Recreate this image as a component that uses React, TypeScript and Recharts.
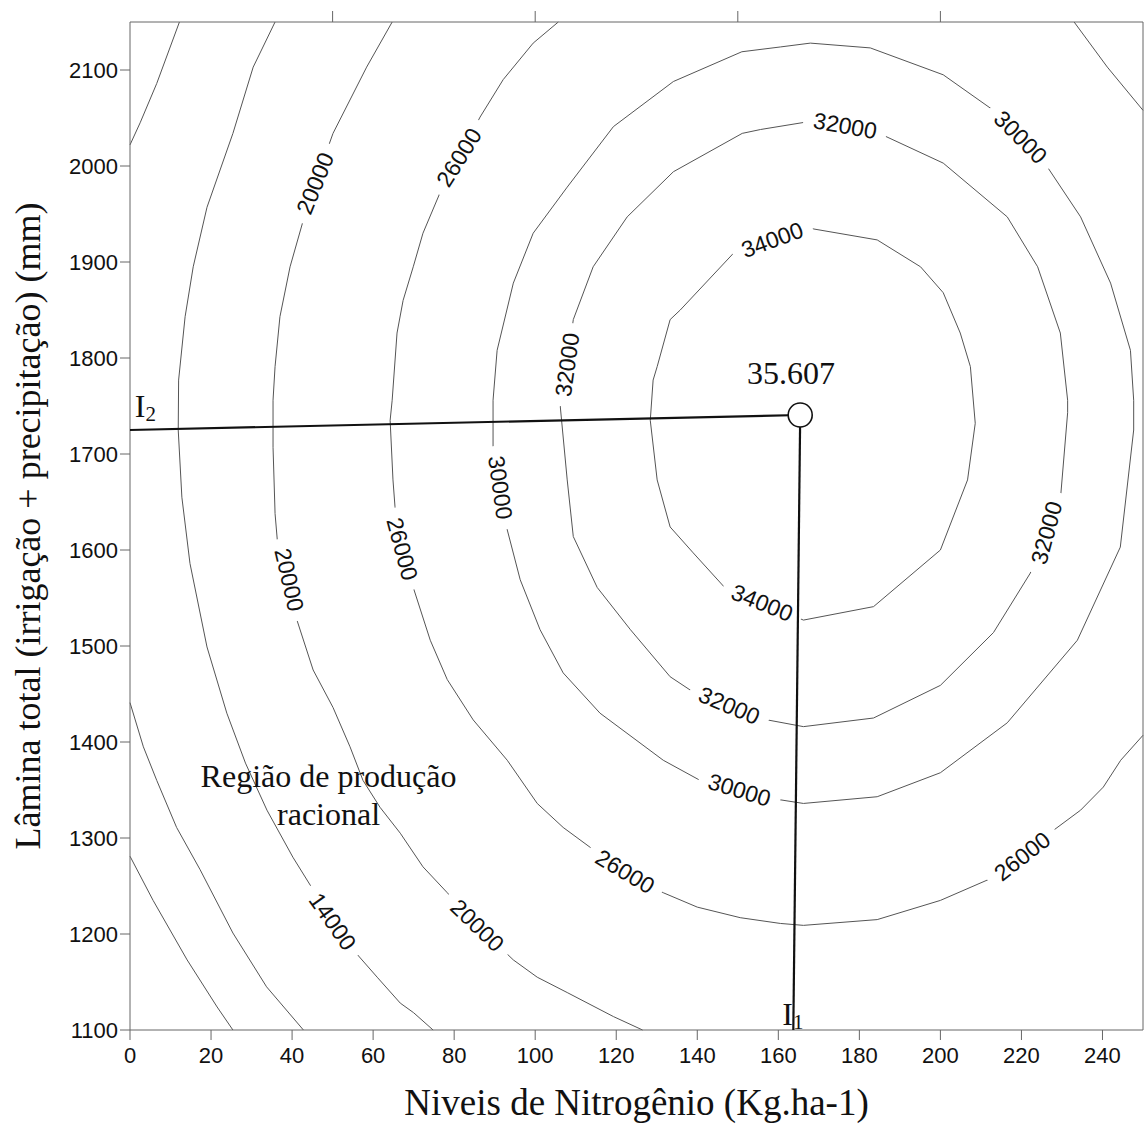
import {
  ComposedChart,
  Line,
  Scatter,
  XAxis,
  YAxis,
  ReferenceLine,
  Label,
} from 'recharts';

const W = 1144;
const H = 1125;

const xTicks = [0, 20, 40, 60, 80, 100, 120, 140, 160, 180, 200, 220, 240];
const yTicks = [1100, 1200, 1300, 1400, 1500, 1600, 1700, 1800, 1900, 2000, 2100];
const topTicks = [50, 100, 150, 200];

// contour lines (x = N kg/ha, y = mm)
const cornerLow = [
  { x: 0, y: 1281 }, { x: 5.7, y: 1235 }, { x: 14.1, y: 1173 }, { x: 21.5, y: 1124 }, { x: 25.4, y: 1100 },
];
const outerLow = [
  { x: 0, y: 1441 }, { x: 3.3, y: 1395 }, { x: 6.6, y: 1360 }, { x: 11.5, y: 1311 }, { x: 17.3, y: 1267 },
  { x: 25.4, y: 1201 }, { x: 33.7, y: 1145 }, { x: 42.8, y: 1100 },
];
const outerTop = [
  { x: 12.2, y: 2150 }, { x: 6.6, y: 2086 }, { x: 2.5, y: 2045 }, { x: 0, y: 2022 },
];
const c14000 = [
  { x: 35.8, y: 2150 }, { x: 30.4, y: 2103 }, { x: 25.4, y: 2034 }, { x: 19, y: 1957 }, { x: 15.6, y: 1895 },
  { x: 13.6, y: 1843 }, { x: 12, y: 1777 }, { x: 11.9, y: 1725 }, { x: 12.8, y: 1655 }, { x: 14.8, y: 1586 },
  { x: 19, y: 1499 }, { x: 23.9, y: 1430 }, { x: 28.5, y: 1378 }, { x: 33.8, y: 1329 }, { x: 40.2, y: 1280 },
  { x: 45.2, y: 1246 }, { x: 50, y: 1213 }, { x: 55.6, y: 1181 }, { x: 61, y: 1155 }, { x: 66.7, y: 1128 },
  { x: 70, y: 1118 }, { x: 74.8, y: 1100 },
];
const c20000 = [
  { x: 64.7, y: 2150 }, { x: 58.4, y: 2103 }, { x: 50.1, y: 2034 }, { x: 45.7, y: 1982 }, { x: 42.8, y: 1944 },
  { x: 39.5, y: 1895 }, { x: 37, y: 1843 }, { x: 35.8, y: 1791 }, { x: 35.3, y: 1756 }, { x: 35.3, y: 1707 },
  { x: 35.8, y: 1638 }, { x: 36.5, y: 1603 }, { x: 39.3, y: 1569 }, { x: 41.2, y: 1527 }, { x: 45.2, y: 1475 },
  { x: 50.1, y: 1436 }, { x: 54.3, y: 1395 }, { x: 57.5, y: 1360 }, { x: 61.7, y: 1332 }, { x: 66.7, y: 1305 },
  { x: 72.3, y: 1270 }, { x: 78.3, y: 1243 }, { x: 85.7, y: 1209 }, { x: 94.6, y: 1173 }, { x: 100.5, y: 1155 },
  { x: 107.9, y: 1139 }, { x: 119.3, y: 1114 }, { x: 126.5, y: 1100 },
];
const c26000 = [
  { x: 105.7, y: 2150 }, { x: 99.5, y: 2128 }, { x: 92.1, y: 2090 }, { x: 86.4, y: 2051 }, { x: 81.2, y: 2009 },
  { x: 76.5, y: 1972 }, { x: 72.3, y: 1930 }, { x: 69.9, y: 1895 }, { x: 67.4, y: 1860 }, { x: 65.9, y: 1826 },
  { x: 64.7, y: 1756 }, { x: 64.2, y: 1735 }, { x: 64.9, y: 1673 }, { x: 65.4, y: 1645 }, { x: 67.2, y: 1601 },
  { x: 69.9, y: 1561 }, { x: 74.1, y: 1506 }, { x: 78.3, y: 1465 }, { x: 84.7, y: 1423 }, { x: 93.1, y: 1381 },
  { x: 100.5, y: 1336 }, { x: 106.9, y: 1311 }, { x: 114.3, y: 1288 }, { x: 122.2, y: 1265 }, { x: 131.6, y: 1243 },
  { x: 140, y: 1228 }, { x: 150.6, y: 1217 }, { x: 160.5, y: 1211 }, { x: 166.2, y: 1209 }, { x: 184.4, y: 1215 },
  { x: 200, y: 1235 }, { x: 213.1, y: 1259 }, { x: 220.2, y: 1281 }, { x: 227.9, y: 1308 }, { x: 234.6, y: 1329 },
  { x: 240.2, y: 1353 }, { x: 244.5, y: 1381 }, { x: 250, y: 1407 },
];
const c26000Corner = [
  { x: 233, y: 2150 }, { x: 241.2, y: 2103 }, { x: 250, y: 2058 },
];
const c30000 = [
  { x: 167.9, y: 2128 }, { x: 160.5, y: 2124 }, { x: 151, y: 2119 }, { x: 134.1, y: 2088 }, { x: 119.3, y: 2041 },
  { x: 107.9, y: 1978 }, { x: 99.5, y: 1930 }, { x: 94.6, y: 1878 }, { x: 90.6, y: 1808 }, { x: 89.6, y: 1756 },
  { x: 89.6, y: 1707 }, { x: 91.4, y: 1665 }, { x: 93.1, y: 1621 }, { x: 96.3, y: 1569 }, { x: 101.2, y: 1517 },
  { x: 106.9, y: 1472 }, { x: 116, y: 1430 }, { x: 131.6, y: 1381 }, { x: 140.7, y: 1360 }, { x: 150.4, y: 1350 },
  { x: 155.6, y: 1343 }, { x: 166.2, y: 1336 }, { x: 184.4, y: 1343 }, { x: 200, y: 1368 }, { x: 216.5, y: 1420 },
  { x: 233.8, y: 1506 }, { x: 244.4, y: 1603 }, { x: 247.7, y: 1725 }, { x: 247.7, y: 1756 }, { x: 246.9, y: 1808 },
  { x: 242, y: 1878 }, { x: 234.6, y: 1947 }, { x: 226.4, y: 1999 }, { x: 219.8, y: 2030 }, { x: 213.1, y: 2058 },
  { x: 200.7, y: 2095 }, { x: 182.7, y: 2123 }, { x: 167.9, y: 2128 },
];
const c32000 = [
  { x: 155.6, y: 2038 }, { x: 167.2, y: 2046 }, { x: 176.5, y: 2042 }, { x: 185.9, y: 2032 }, { x: 200.7, y: 2003 },
  { x: 216.5, y: 1947 }, { x: 224, y: 1895 }, { x: 229.6, y: 1826 }, { x: 231.4, y: 1756 }, { x: 231.4, y: 1743 },
  { x: 229.6, y: 1652 }, { x: 226.2, y: 1618 }, { x: 222.2, y: 1576 }, { x: 213.1, y: 1514 }, { x: 200, y: 1459 },
  { x: 183.5, y: 1425 }, { x: 166.2, y: 1416 }, { x: 157.3, y: 1423 }, { x: 147.9, y: 1438 }, { x: 138.3, y: 1454 },
  { x: 133.3, y: 1468 }, { x: 123.5, y: 1517 }, { x: 115.3, y: 1561 }, { x: 109.4, y: 1614 }, { x: 107.9, y: 1673 },
  { x: 106.2, y: 1749 }, { x: 107.9, y: 1793 }, { x: 109.4, y: 1840 }, { x: 114.3, y: 1895 }, { x: 122.7, y: 1947 },
  { x: 134.1, y: 1994 }, { x: 151.1, y: 2034 }, { x: 155.6, y: 2038 },
];
const c34000 = [
  { x: 148.9, y: 1909 }, { x: 158.5, y: 1923 }, { x: 167.9, y: 1935 }, { x: 184.4, y: 1923 }, { x: 195.1, y: 1895 },
  { x: 200.7, y: 1868 }, { x: 204.9, y: 1826 }, { x: 207.4, y: 1791 }, { x: 208.6, y: 1732 }, { x: 206.7, y: 1673 },
  { x: 200, y: 1600 }, { x: 183.5, y: 1541 }, { x: 166.2, y: 1527 }, { x: 156, y: 1545 }, { x: 147.4, y: 1558 },
  { x: 139, y: 1597 }, { x: 133.3, y: 1624 }, { x: 130.1, y: 1673 }, { x: 128.4, y: 1735 }, { x: 129.1, y: 1777 },
  { x: 130.1, y: 1791 }, { x: 133.3, y: 1840 }, { x: 135.8, y: 1850 }, { x: 148.9, y: 1909 },
];

const contours = [cornerLow, outerLow, outerTop, c14000, c20000, c26000, c26000Corner, c30000, c32000, c34000];

const contourLabels = [
  { x: 50, y: 1213, text: '14000' },
  { x: 45.7, y: 1982, text: '20000' },
  { x: 39.3, y: 1569, text: '20000' },
  { x: 85.7, y: 1209, text: '20000' },
  { x: 81.2, y: 2009, text: '26000' },
  { x: 67.2, y: 1601, text: '26000' },
  { x: 122.2, y: 1265, text: '26000' },
  { x: 220.2, y: 1281, text: '26000' },
  { x: 91.4, y: 1665, text: '30000' },
  { x: 150.4, y: 1350, text: '30000' },
  { x: 219.8, y: 2030, text: '30000' },
  { x: 176.5, y: 2042, text: '32000' },
  { x: 107.9, y: 1793, text: '32000' },
  { x: 147.9, y: 1438, text: '32000' },
  { x: 226.2, y: 1618, text: '32000' },
  { x: 158.5, y: 1923, text: '34000' },
  { x: 156, y: 1545, text: '34000' },
];
const labelAngles = [55, -68, 77, 44, -58, 75, 31, -38, 82, 17, 45, 10, -82, 23, -75, -20, 22];

const optimum = [{ x: 165.4, y: 1740.6 }];
const lineI2 = [{ x: 0, y: 1725 }, { x: 165.4, y: 1740.6 }];
const lineI1 = [{ x: 165.4, y: 1740.6 }, { x: 163.7, y: 1100 }];

const notes = [
  { x: 163.1, y: 1773, text: '35.607' },
  { x: 49, y: 1353, text: 'Região de produção' },
  { x: 49, y: 1313.5, text: 'racional' },
];
const indexLabels = [
  { x: 1.2, y: 1738.5, main: 'I', sub: '2' },
  { x: 161, y: 1105, main: 'I', sub: '1' },
];

const SERIF = '"Liberation Serif", "Times New Roman", serif';
const SANS = '"Liberation Sans", Arial, sans-serif';
const AXIS = '#666';

function YTitle(props: any) {
  const vb = props.viewBox;
  const cx = vb.x + 40;
  const cy = vb.y + vb.height / 2;
  return (
    <text x={cx} y={cy} transform={`rotate(-90, ${cx}, ${cy})`} textAnchor="middle"
      fontFamily={SERIF} fontSize={36} fill="#111">
      Lâmina total (irrigação + precipitação) (mm)
    </text>
  );
}

function XTitle(props: any) {
  const vb = props.viewBox;
  return (
    <text x={vb.x + vb.width / 2} y={vb.y + 85} textAnchor="middle"
      fontFamily={SERIF} fontSize={37} fill="#111">
      Niveis de Nitrogênio (Kg.ha-1)
    </text>
  );
}

function contourLabel(angle: number) {
  return (p: any) => {
    const { cx, cy } = p;
    return (
      <g transform={`rotate(${angle}, ${cx}, ${cy})`}>
        <rect x={cx - 42} y={cy - 9} width={84} height={18} fill="#fff" />
        <text x={cx} y={cy} textAnchor="middle" dominantBaseline="central"
          fontFamily={SANS} fontSize={23} fill="#111">
          {p.payload.text}
        </text>
      </g>
    );
  };
}

function noteShape(p: any) {
  return (
    <text x={p.cx} y={p.cy} textAnchor="middle" fontFamily={SERIF} fontSize={32} fill="#111">
      {p.payload.text}
    </text>
  );
}

function indexShape(p: any) {
  return (
    <text x={p.cx} y={p.cy} fontFamily={SERIF} fontSize={32} fill="#111">
      {p.payload.main}
      <tspan fontSize={21} dy={4}>{p.payload.sub}</tspan>
    </text>
  );
}

function optimumShape(p: any) {
  return <circle cx={p.cx} cy={p.cy} r={12} fill="#fff" stroke="#111" strokeWidth={1.6} />;
}

// outward tick on the top frame
function topTickShape(p: any) {
  return <line x1={p.cx} y1={p.cy} x2={p.cx} y2={p.cy - 11} stroke={AXIS} strokeWidth={1} />;
}

const noMark = () => <g />;

export default function App() {
  const topTickPoints = topTicks.map((t) => ({ x: t, y: 2150 }));
  return (
    <div style={{ position: 'absolute', left: 0, top: 0, width: W, height: H, background: '#fff' }}>
      <ComposedChart width={W} height={H} margin={{ top: 21, right: 1, bottom: 0, left: 0 }}>
        <XAxis xAxisId={0} dataKey="x" type="number" domain={[0, 250]} ticks={xTicks}
          height={95} tickSize={10} tickMargin={7}
          axisLine={{ stroke: AXIS }} tickLine={{ stroke: AXIS }}
          tick={{ fill: '#111', fontSize: 22, fontFamily: SANS }}>
          <Label content={XTitle} />
        </XAxis>
        <XAxis xAxisId="top" orientation="top" dataKey="x" type="number" domain={[0, 250]}
          ticks={topTicks} height={1} tickLine={false} tick={noMark}
          axisLine={{ stroke: AXIS }} />
        <YAxis yAxisId={0} dataKey="y" type="number" domain={[1100, 2150]} ticks={yTicks}
          width={130} tickSize={10} tickMargin={2}
          axisLine={{ stroke: AXIS }} tickLine={{ stroke: AXIS }}
          tick={{ fill: '#111', fontSize: 22, fontFamily: SANS }}>
          <Label content={YTitle} />
        </YAxis>
        <ReferenceLine x={250} stroke={AXIS} />

        {contours.map((c, i) => (
          <Line key={`c${i}`} data={c} dataKey="y" type="linear" stroke="#555" strokeWidth={1}
            dot={false} activeDot={false} isAnimationActive={false} />
        ))}
        {contourLabels.map((l, i) => (
          <Scatter key={`l${i}`} data={[l]} shape={contourLabel(labelAngles[i])} isAnimationActive={false} />
        ))}

        <Scatter data={topTickPoints} shape={topTickShape} isAnimationActive={false} />
        <Scatter data={lineI2} line={{ stroke: '#111', strokeWidth: 2.2 }} shape={noMark} isAnimationActive={false} />
        <Scatter data={lineI1} line={{ stroke: '#111', strokeWidth: 2.2 }} shape={noMark} isAnimationActive={false} />
        <Scatter data={optimum} shape={optimumShape} isAnimationActive={false} />
        <Scatter data={notes} shape={noteShape} isAnimationActive={false} />
        <Scatter data={indexLabels} shape={indexShape} isAnimationActive={false} />
      </ComposedChart>
    </div>
  );
}
